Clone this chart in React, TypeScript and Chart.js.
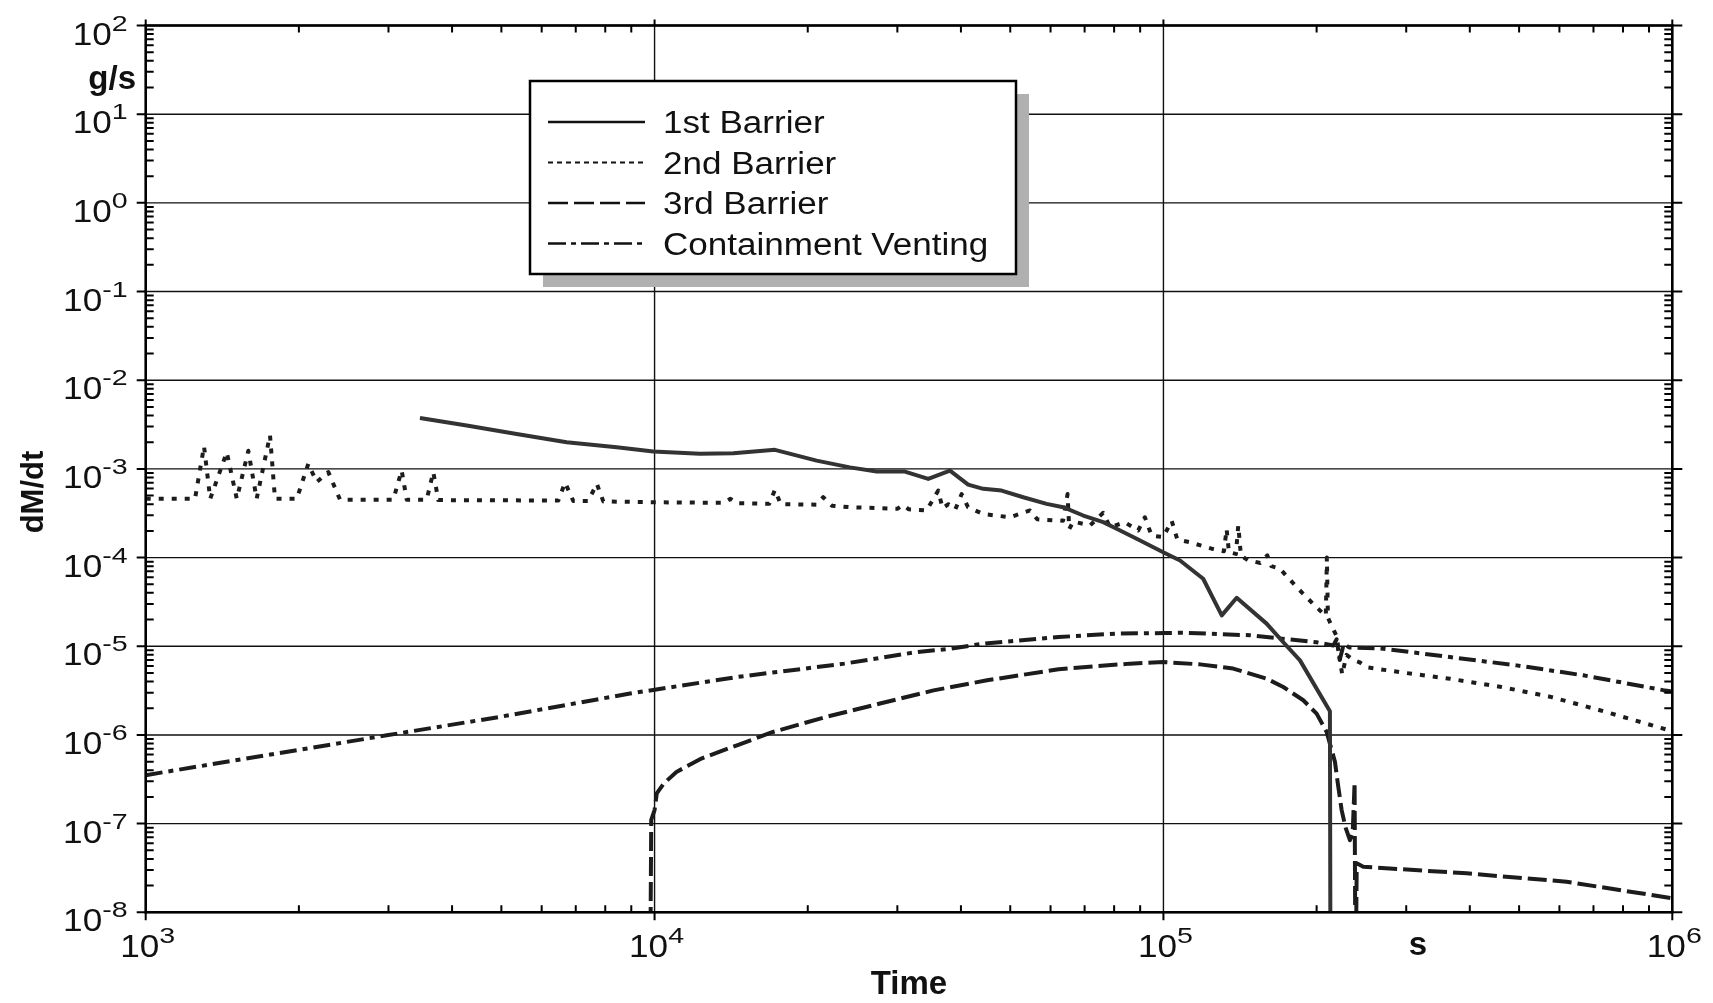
import React, { useEffect, useRef } from "react";
import { Chart, registerables } from "chart.js";

Chart.register(...registerables);

// ---------------- data (time in s, release rate dM/dt in g/s) ----------------
const barrier1Time = [3459, 4274, 5358, 6719, 8425, 9943, 12280, 14280, 17240, 20820, 24200, 27320, 31040, 34500, 38060, 41330, 44250, 48080, 53030, 58950, 63530, 69570, 76150, 80910, 88580, 99900, 107800, 119700, 130200, 139300, 159500, 172000, 185500, 212400, 213000];
const barrier1Rate = [3.75e-3, 3.08e-3, 2.48e-3, 2.0e-3, 1.75e-3, 1.57e-3, 1.48e-3, 1.5e-3, 1.64e-3, 1.24e-3, 1.04e-3, 9.33e-4, 9.33e-4, 7.71e-4, 9.58e-4, 6.65e-4, 5.96e-4, 5.7e-4, 4.79e-4, 4.03e-4, 3.7e-4, 2.98e-4, 2.51e-4, 2.11e-4, 1.63e-4, 1.15e-4, 9.27e-5, 5.77e-5, 2.23e-5, 3.52e-5, 1.8e-5, 1.11e-5, 6.93e-6, 1.85e-6, 1e-9];

const barrier2Time = [1000, 1250, 1302, 1339, 1443, 1510, 1591, 1652, 1755, 1795, 1981, 2087, 2168, 2285, 2409, 3066, 3184, 3258, 3566, 3674, 3758, 6468, 6670, 6923, 7408, 7700, 7930, 10000, 13700, 14100, 14500, 16800, 17240, 17700, 20800, 21450, 22300, 24200, 30000, 30800, 31600, 34240, 36100, 36800, 37800, 39000, 40130, 41300, 44250, 49900, 54650, 56500, 63500, 64800, 65300, 66500, 71730, 76150, 78500, 84000, 89210, 91950, 94800, 99900, 103800, 106500, 112700, 124400, 131500, 133100, 134500, 138800, 140300, 142000, 146800, 155000, 160000, 163000, 169400, 182700, 196900, 205000, 208500, 209500, 210500, 214000, 219000, 224500, 229000, 236000, 243000, 251000, 291500, 365600, 458300, 574700, 720500, 1000000];
const barrier2Rate = [4.6e-4, 4.6e-4, 1.8e-3, 4.6e-4, 1.54e-3, 4.6e-4, 1.6e-3, 4.6e-4, 2.4e-3, 4.6e-4, 4.6e-4, 1.14e-3, 7.1e-4, 9.2e-4, 4.5e-4, 4.5e-4, 9.6e-4, 4.5e-4, 4.5e-4, 9.2e-4, 4.45e-4, 4.4e-4, 7.0e-4, 4.35e-4, 4.35e-4, 6.8e-4, 4.3e-4, 4.2e-4, 4.15e-4, 4.6e-4, 4.1e-4, 4.05e-4, 5.8e-4, 4.0e-4, 3.95e-4, 4.8e-4, 3.85e-4, 3.7e-4, 3.55e-4, 3.9e-4, 3.5e-4, 3.4e-4, 5.7e-4, 3.6e-4, 4.0e-4, 3.5e-4, 5.2e-4, 3.7e-4, 3.1e-4, 2.85e-4, 3.4e-4, 2.7e-4, 2.6e-4, 5.2e-4, 2.1e-4, 2.55e-4, 2.3e-4, 3.2e-4, 2.2e-4, 2.5e-4, 2.02e-4, 2.85e-4, 1.77e-4, 1.7e-4, 2.6e-4, 1.6e-4, 1.49e-4, 1.26e-4, 1.18e-4, 2.1e-4, 1.15e-4, 1.1e-4, 2.3e-4, 1.05e-4, 9.3e-5, 8.7e-5, 1.06e-4, 8.0e-5, 7.5e-5, 4.65e-5, 3.0e-5, 2.4e-5, 2.2e-5, 1.0e-4, 2.1e-5, 1.7e-5, 1.3e-5, 4.8e-6, 8.0e-6, 7.0e-6, 6.6e-6, 5.8e-6, 5.1e-6, 4.3e-6, 3.5e-6, 2.7e-6, 1.9e-6, 1.1e-6];

const barrier3Time = [9800, 9850, 10000, 10100, 10430, 11040, 12360, 14520, 17080, 21760, 27730, 35340, 45020, 62230, 85900, 99900, 118000, 137100, 147900, 159500, 172000, 188300, 200000, 209300, 217300, 220600, 224000, 228000, 232600, 235500, 237500, 238500, 239800, 247000, 394400, 619900, 1000000];
const barrier3Rate = [1e-9, 1.1e-7, 1.42e-7, 2.19e-7, 2.84e-7, 3.83e-7, 5.42e-7, 7.65e-7, 1.08e-6, 1.6e-6, 2.26e-6, 3.18e-6, 4.13e-6, 5.5e-6, 6.37e-6, 6.64e-6, 6.25e-6, 5.6e-6, 4.91e-6, 4.31e-6, 3.47e-6, 2.46e-6, 1.74e-6, 1.08e-6, 4.97e-7, 2.6e-7, 1.42e-7, 9e-8, 6.5e-8, 8e-8, 2.9e-7, 1e-9, 3.57e-8, 3.26e-8, 2.75e-8, 2.21e-8, 1.44e-8];

const ventingTime = [1000, 2976, 4968, 8950, 14520, 23600, 32730, 38300, 44250, 62230, 80910, 101000, 109400, 147900, 200000, 215700, 219000, 222000, 226000, 232000, 270400, 365600, 494400, 668500, 959600, 1000000];
const ventingRate = [3.52e-7, 9.9e-7, 1.6e-6, 2.93e-6, 4.5e-6, 6.37e-6, 8.6e-6, 9.4e-6, 1.07e-5, 1.27e-5, 1.39e-5, 1.41e-5, 1.42e-5, 1.33e-5, 1.11e-5, 1.02e-5, 1.2e-5, 7e-6, 1.05e-5, 9.7e-6, 9.4e-6, 7.55e-6, 6.09e-6, 4.7e-6, 3.2e-6, 3.1e-6];

const seriesLabels = ["1st Barrier", "2nd Barrier", "3rd Barrier", "Containment Venting"];
const yTickExponents = [2, 1, 0, -1, -2, -3, -4, -5, -6, -7, -8];
const xTickExponents = [3, 4, 5, 6];
const minorMultipliers = [2, 3, 4, 5, 6, 7, 8, 9];
const yAxisTitle = "dM/dt";
const yUnit = "g/s";
const xAxisTitle = "Time";
const xUnit = "s";

// ---------------- styling ----------------
const FONT = '"Liberation Sans", Arial, Helvetica, sans-serif';
const lineStyles = [
  { color: "#333", width: 4, dash: [] as number[] },
  { color: "#1c1c1c", width: 4, dash: [5, 8] },
  { color: "#1c1c1c", width: 4, dash: [19, 6] },
  { color: "#1c1c1c", width: 4, dash: [17, 6, 5, 6] },
];
const legendDash = [[] as number[], [5, 4], [20, 6], [18, 5, 5, 5]];

const toPoints = (xs: number[], ys: number[]) => xs.map((x, i) => ({ x, y: ys[i] }));

function drawStretched(ctx: CanvasRenderingContext2D, text: string, x: number, y: number, sx: number) {
  ctx.save();
  ctx.translate(x, y);
  ctx.scale(sx, 1);
  ctx.textAlign = "left";
  ctx.fillText(text, 0, 0);
  ctx.restore();
}

function powerLabel(ctx: CanvasRenderingContext2D, exp: number, x: number, yBase: number, ySup: number, align: "right" | "center") {
  const sxBase = 1.1;
  const sxSup = 1.3;
  const supText = String(exp);
  ctx.font = `32px ${FONT}`;
  const w10 = ctx.measureText("10").width * sxBase;
  ctx.font = `22px ${FONT}`;
  const wSup = ctx.measureText(supText).width * sxSup;
  const total = w10 + wSup;
  const x0 = align === "right" ? x - total : x - total / 2;
  ctx.font = `32px ${FONT}`;
  drawStretched(ctx, "10", x0, yBase, sxBase);
  ctx.font = `22px ${FONT}`;
  drawStretched(ctx, supText, x0 + w10, ySup, sxSup);
}

const decorPlugin = {
  id: "decor",
  beforeDatasetsDraw(chart: any) {
    const ctx: CanvasRenderingContext2D = chart.ctx;
    const xs = chart.scales.x;
    const ys = chart.scales.y;
    const { left, right, top, bottom } = chart.chartArea;
    ctx.save();
    ctx.strokeStyle = "#111";
    ctx.lineWidth = 1.4;
    ctx.beginPath();
    yTickExponents.forEach((e) => {
      const y = ys.getPixelForValue(Math.pow(10, e));
      ctx.moveTo(left, y);
      ctx.lineTo(right, y);
    });
    xTickExponents.forEach((e) => {
      const x = xs.getPixelForValue(Math.pow(10, e));
      ctx.moveTo(x, top);
      ctx.lineTo(x, bottom);
    });
    ctx.stroke();
    ctx.restore();
  },
  afterDatasetsDraw(chart: any) {
    const ctx: CanvasRenderingContext2D = chart.ctx;
    const xs = chart.scales.x;
    const ys = chart.scales.y;
    const { left, right, top, bottom } = chart.chartArea;
    ctx.save();
    ctx.strokeStyle = "#000";
    ctx.lineWidth = 2.6;
    ctx.strokeRect(left, top, right - left, bottom - top);
    ctx.lineWidth = 2;
    ctx.beginPath();
    yTickExponents.forEach((e) => {
      const y = ys.getPixelForValue(Math.pow(10, e));
      ctx.moveTo(left - 9, y);
      ctx.lineTo(left, y);
      ctx.moveTo(right, y);
      ctx.lineTo(right + 10, y);
      if (e > -8) {
        minorMultipliers.forEach((m) => {
          const ym = ys.getPixelForValue(m * Math.pow(10, e - 1));
          ctx.moveTo(left, ym);
          ctx.lineTo(left + 8, ym);
          ctx.moveTo(right, ym);
          ctx.lineTo(right - 8, ym);
        });
      }
    });
    xTickExponents.forEach((e) => {
      const x = xs.getPixelForValue(Math.pow(10, e));
      ctx.moveTo(x, bottom);
      ctx.lineTo(x, bottom + 8);
      ctx.moveTo(x, top);
      ctx.lineTo(x, top - 6);
      if (e < 6) {
        minorMultipliers.forEach((m) => {
          const xm = xs.getPixelForValue(m * Math.pow(10, e));
          ctx.moveTo(xm, bottom);
          ctx.lineTo(xm, bottom - 7);
          ctx.moveTo(xm, top);
          ctx.lineTo(xm, top + 7);
        });
      }
    });
    ctx.stroke();
    ctx.restore();
  },
  afterDraw(chart: any) {
    const ctx: CanvasRenderingContext2D = chart.ctx;
    const xs = chart.scales.x;
    const ys = chart.scales.y;
    const { left, bottom } = chart.chartArea;
    ctx.save();
    ctx.fillStyle = "#111";
    ctx.textBaseline = "alphabetic";
    yTickExponents.forEach((e) => {
      const y = ys.getPixelForValue(Math.pow(10, e));
      powerLabel(ctx, e, left - 18, y + 19, y + 5, "right");
    });
    xTickExponents.forEach((e) => {
      const x = xs.getPixelForValue(Math.pow(10, e));
      powerLabel(ctx, e, x + 2, bottom + 45, bottom + 31, "center");
    });
    ctx.font = `bold 33px ${FONT}`;
    ctx.textAlign = "right";
    ctx.fillText(yUnit, 136, 89);
    ctx.textAlign = "center";
    ctx.fillText(xAxisTitle, 909, 994);
    ctx.fillText(xUnit, xs.getPixelForValue(Math.pow(10, 5.5)), bottom + 43);
    ctx.save();
    ctx.translate(43, 492);
    ctx.rotate(-Math.PI / 2);
    ctx.font = `bold 31px ${FONT}`;
    ctx.textAlign = "center";
    ctx.fillText(yAxisTitle, 0, 0);
    ctx.restore();

    // legend
    const lg = { l: 530, t: 81, r: 1016, b: 274 };
    ctx.fillStyle = "#b0b0b0";
    ctx.fillRect(lg.l + 13, lg.t + 13, lg.r - lg.l, lg.b - lg.t);
    ctx.fillStyle = "#fff";
    ctx.fillRect(lg.l, lg.t, lg.r - lg.l, lg.b - lg.t);
    ctx.strokeStyle = "#000";
    ctx.lineWidth = 2.5;
    ctx.strokeRect(lg.l, lg.t, lg.r - lg.l, lg.b - lg.t);
    chart.data.datasets.forEach((ds: any, i: number) => {
      const y = 122 + 40.5 * i;
      ctx.beginPath();
      ctx.setLineDash(legendDash[i]);
      ctx.lineWidth = i === 1 ? 2 : 2.6;
      ctx.strokeStyle = "#111";
      ctx.moveTo(548, y);
      ctx.lineTo(645, y);
      ctx.stroke();
      ctx.setLineDash([]);
      ctx.fillStyle = "#111";
      ctx.font = `31px ${FONT}`;
      drawStretched(ctx, ds.label, 663, y + 11, 1.13);
    });
    ctx.restore();
  },
};

export default function App() {
  const canvasRef = useRef<HTMLCanvasElement>(null);

  useEffect(() => {
    const canvas = canvasRef.current;
    if (!canvas) return;
    const series = [
      toPoints(barrier1Time, barrier1Rate),
      toPoints(barrier2Time, barrier2Rate),
      toPoints(barrier3Time, barrier3Rate),
      toPoints(ventingTime, ventingRate),
    ];
    const chart = new Chart(canvas, {
      type: "scatter",
      data: {
        datasets: series.map((data, i) => ({
          label: seriesLabels[i],
          data,
          showLine: true,
          borderColor: lineStyles[i].color,
          borderWidth: lineStyles[i].width,
          borderDash: lineStyles[i].dash,
          borderJoinStyle: "round" as const,
          pointRadius: 0,
          tension: 0,
          clip: 0,
        })),
      },
      options: {
        animation: false,
        responsive: false,
        events: [],
        layout: { padding: { left: 145.7, top: 25.5, right: 40.7, bottom: 90.7 } },
        scales: {
          x: { type: "logarithmic", min: 1e3, max: 1e6, display: false },
          y: { type: "logarithmic", min: 1e-8, max: 1e2, display: false },
        },
        plugins: { legend: { display: false }, tooltip: { enabled: false } },
      },
      plugins: [decorPlugin],
    } as any);
    return () => chart.destroy();
  }, []);

  return (
    <div style={{ position: "fixed", left: 0, top: 0, width: 1713, height: 1003, background: "#fff" }}>
      <canvas ref={canvasRef} width={1713} height={1003} style={{ display: "block", width: 1713, height: 1003 }} />
    </div>
  );
}
